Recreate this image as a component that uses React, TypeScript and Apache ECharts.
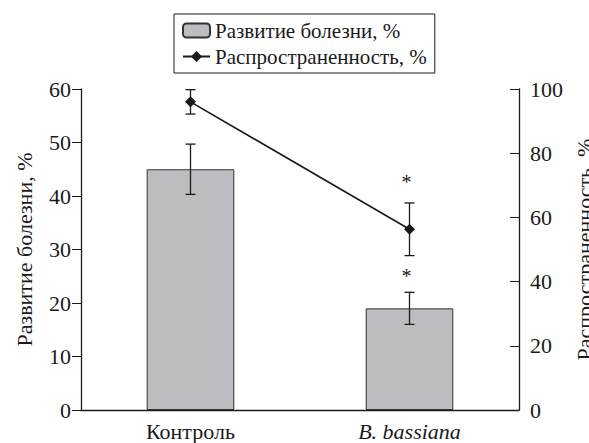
import React, { useEffect, useRef } from "react";
import * as echarts from "echarts";

const categories = ["Контроль", "B. bassiana"];
const severity = [45, 19];
const severityErr = [4.7, 3];
const severitySig = [false, true];
const prevalence = [96, 56.3];
const prevalenceErr = [3.8, 8.2];
const prevalenceSig = [false, true];
const leftTicks = { min: 0, max: 60, interval: 10 };
const rightTicks = { min: 0, max: 100, interval: 20 };

const FONT = "Liberation Serif";
const INK = "#1a1a1a";

function errRender(sigOffset: number) {
  return (params: any, api: any) => {
    const idx = api.value(0);
    const lo = api.value(1);
    const hi = api.value(2);
    const sig = api.value(3);
    const pLo = api.coord([idx, lo]);
    const pHi = api.coord([idx, hi]);
    const cap = 5;
    const style = { stroke: INK, lineWidth: 1.3 };
    const children: any[] = [
      { type: "line", shape: { x1: pLo[0], y1: pLo[1], x2: pHi[0], y2: pHi[1] }, style },
      { type: "line", shape: { x1: pLo[0] - cap, y1: pLo[1], x2: pLo[0] + cap, y2: pLo[1] }, style },
      { type: "line", shape: { x1: pHi[0] - cap, y1: pHi[1], x2: pHi[0] + cap, y2: pHi[1] }, style },
    ];
    if (sig) {
      children.push({
        type: "text",
        x: pHi[0] - 3,
        y: pHi[1] - sigOffset,
        style: { text: "*", fontSize: 20, fontFamily: FONT, fill: INK, align: "center", verticalAlign: "middle" },
      });
    }
    return { type: "group", children };
  };
}

export default function App() {
  const ref = useRef<HTMLDivElement>(null);
  useEffect(() => {
    if (!ref.current) return;
    const chart = echarts.init(ref.current, null, { renderer: "svg" });
    const sevErrData = categories.map((_, i) => [
      i,
      severity[i] - severityErr[i],
      severity[i] + severityErr[i],
      severitySig[i] ? 1 : 0,
    ]);
    const prevErrData = categories.map((_, i) => [
      i,
      prevalence[i] - prevalenceErr[i],
      prevalence[i] + prevalenceErr[i],
      prevalenceSig[i] ? 1 : 0,
    ]);
    chart.setOption({
      animation: false,
      legend: {
        orient: "vertical",
        left: 174,
        top: 14,
        borderColor: INK,
        borderWidth: 1,
        padding: [6, 8, 6, 8],
        itemGap: 5,
        itemWidth: 27,
        itemHeight: 14,
        textStyle: { fontFamily: FONT, fontSize: 21, color: INK },
        data: ["Развитие болезни, %", "Распространенность, %"],
      },
      grid: { left: 81, right: 70, top: 89, bottom: 33, outerBoundsMode: "none", containLabel: false },
      xAxis: {
        type: "category",
        data: categories,
        axisLine: { lineStyle: { color: INK, width: 1.3 } },
        axisTick: { inside: true, length: 9, lineStyle: { color: INK } },
        axisLabel: {
          fontFamily: FONT,
          fontSize: 22,
          color: INK,
          margin: 10,
          interval: 0,
          formatter: (v: string) => (v === "B. bassiana" ? `{it|${v}}` : v),
          rich: { it: { fontStyle: "italic", fontFamily: FONT, fontSize: 22, color: INK } },
        },
      },
      yAxis: [
        {
          type: "value",
          ...leftTicks,
          position: "left",
          name: "Развитие болезни, %",
          nameLocation: "middle",
          nameGap: 46,
          nameTextStyle: { fontFamily: FONT, fontSize: 22, color: INK },
          axisLine: { show: true, lineStyle: { color: INK, width: 1.3 } },
          axisTick: { show: true, inside: false, length: 9, lineStyle: { color: INK } },
          axisLabel: { fontFamily: FONT, fontSize: 22, color: INK, margin: 10 },
          splitLine: { show: false },
        },
        {
          type: "value",
          ...rightTicks,
          position: "right",
          name: "Распространенность, %",
          nameLocation: "middle",
          nameGap: 38,
          nameTextStyle: { fontFamily: FONT, fontSize: 22, color: INK },
          axisLine: { show: true, lineStyle: { color: INK, width: 1.3 } },
          axisTick: { show: true, inside: true, length: 9, lineStyle: { color: INK } },
          axisLabel: { fontFamily: FONT, fontSize: 22, color: INK, margin: 11 },
          splitLine: { show: false },
        },
      ],
      series: [
        {
          name: "Развитие болезни, %",
          type: "bar",
          yAxisIndex: 0,
          data: severity,
          barWidth: "40%",
          legendIcon: "rect",
          itemStyle: { color: "#bcbdc1", borderColor: "#333", borderWidth: 1 },
        },
        {
          name: "Распространенность, %",
          type: "line",
          yAxisIndex: 1,
          data: prevalence,
          symbol: "diamond",
          symbolSize: 11,
          itemStyle: { color: INK },
          lineStyle: { color: INK, width: 1.6 },
          z: 5,
        },
        { type: "custom", yAxisIndex: 0, data: sevErrData, renderItem: errRender(16), z: 6 },
        { type: "custom", yAxisIndex: 1, data: prevErrData, renderItem: errRender(21), z: 6 },
      ],
    });
    return () => chart.dispose();
  }, []);
  return (
    <div
      ref={ref}
      style={{ width: 589, height: 443, position: "absolute", left: 0, top: 0, fontFamily: "Liberation Serif, serif" }}
    />
  );
}
